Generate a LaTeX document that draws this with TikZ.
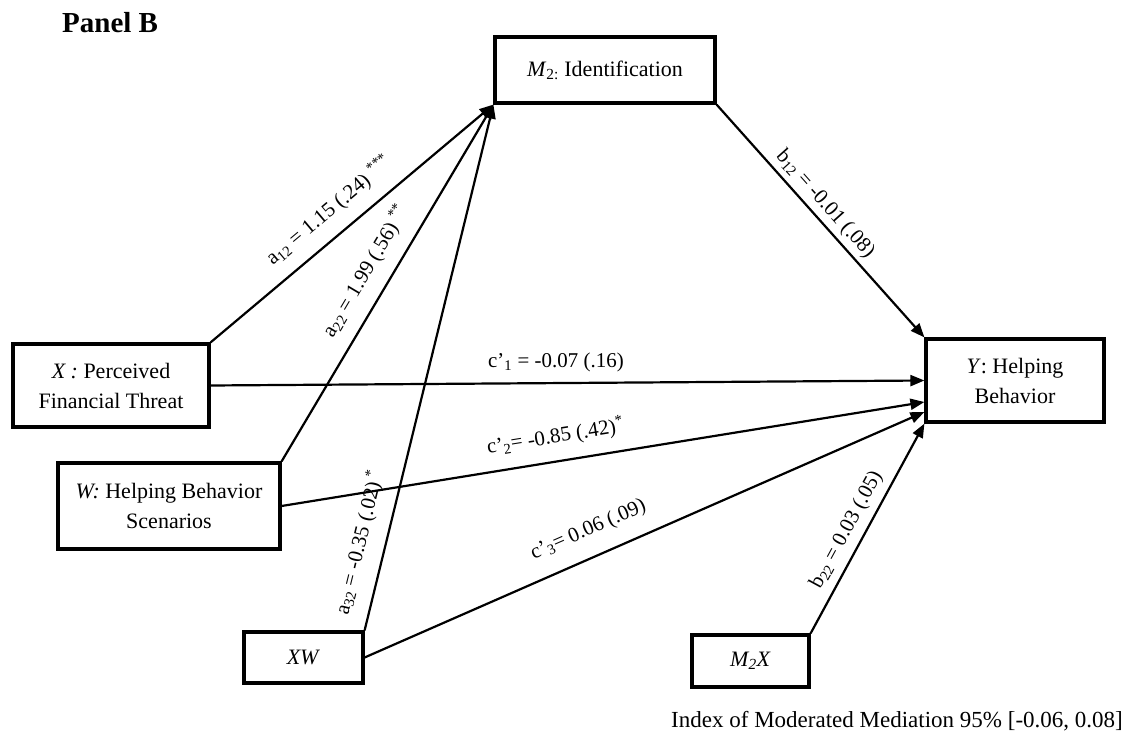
\documentclass[tikz,border=0pt]{standalone}
\usepackage{fontspec}
\setmainfont{Liberation Serif}
\usetikzlibrary{arrows.meta}
\begin{document}
\begin{tikzpicture}[x=1pt,y=1pt,
  box/.style={draw, line width=3.2pt, align=center, inner sep=0pt,
              font=\fontsize{22}{30}\selectfont},
  conn/.style={line width=2.2pt, -{Triangle[length=14pt,width=11pt]}},
  lab/.style={sloped, inner sep=2pt, font=\fontsize{21}{24}\selectfont}]
\useasboundingbox (0,0) rectangle (1147,734);
% boxes
\node[box, minimum width=220pt, minimum height=66pt] (M2) at (605,664) {\textit{M}\textsubscript{2:} Identification};
\node[box, minimum width=196pt, minimum height=83pt] (X) at (111,348.5) {\textit{X :} Perceived\\Financial Threat};
\node[box, minimum width=222pt, minimum height=86pt] (W) at (169,228) {\textit{W:} Helping Behavior\\Scenarios};
\node[box, minimum width=119pt, minimum height=51pt] (XW) at (303.5,76.5) {\textit{XW}};
\node[box, minimum width=117pt, minimum height=52pt] (M2X) at (750.5,73) {\textit{M\textsubscript{2}X}};
\node[box, minimum width=178pt, minimum height=83pt] (Y) at (1015,353.5) {\textit{Y}: Helping\\Behavior};
% texts
\node[anchor=base west, inner sep=0pt, font=\fontsize{29}{32}\selectfont\bfseries] (title) at (62,701) {Panel B};
\node[anchor=base east, inner sep=0pt, font=\fontsize{23}{26}\selectfont] (index) at (1123,7) {Index of Moderated Mediation 95\% [-0.06, 0.08]};
% end points on Y
\coordinate (yw2) at ([yshift=-21.5pt]Y.west);
\coordinate (yw3) at ([yshift=-31.5pt]Y.west);
% connectors
\draw[conn] (X.north east) -- node[lab, pos=0.475, above=11pt] {a\textsubscript{12} = 1.15 (.24) \textsuperscript{***}} (M2.south west);
\draw[conn] (W.north east) -- node[lab, pos=0.4975, above=11pt] {a\textsubscript{22} = 1.99 (.56) \textsuperscript{**}} (M2.south west);
\draw[conn] (XW.north east) -- node[lab, pos=0.155, above=12pt] {a\textsubscript{32} = -0.35 (.02)\textsuperscript{ *}} (M2.south west);
\draw[conn] (M2.south east) -- node[lab, pos=0.47, above=2pt] {b\textsubscript{12} = -0.01 (.08)} (Y.north west);
\draw[conn] (X.east) -- node[lab, pos=0.484, above=8pt] {c’\textsubscript{1} = -0.07 (.16)} (Y.west);
\draw[conn] (W.east) -- node[lab, pos=0.432, above=11pt] {c’\textsubscript{2}= -0.85 (.42)\textsuperscript{*}} (yw2);
\draw[conn] (XW.east) -- node[lab, pos=0.419, above=14pt] {c’\textsubscript{3}= 0.06 (.09)} (yw3);
\draw[conn] (M2X.north east) -- node[lab, pos=0.454, above=5pt] {b\textsubscript{22} = 0.03 (.05)} (Y.south west);
\end{tikzpicture}
\end{document}
